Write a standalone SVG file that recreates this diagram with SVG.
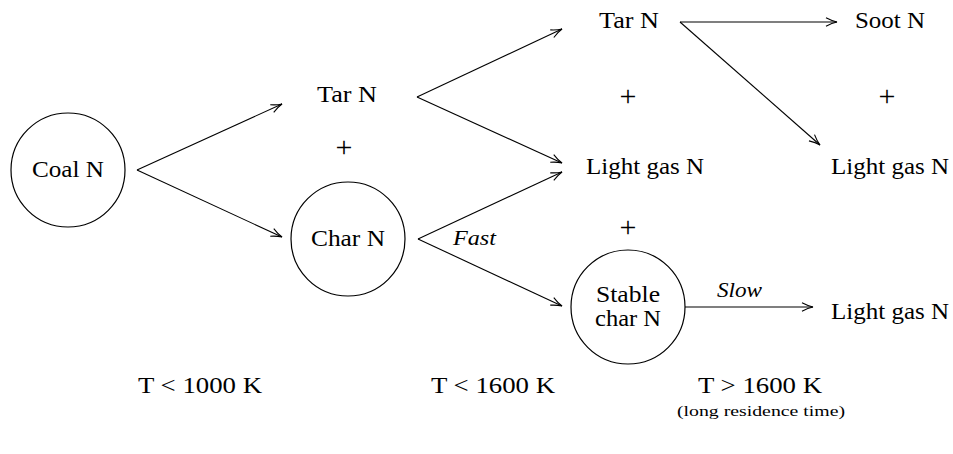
<svg xmlns="http://www.w3.org/2000/svg" width="953" height="454" viewBox="0 0 953 454">
<style>
  text { font-family: 'Liberation Serif', 'Times New Roman', 'DejaVu Serif', serif; fill: #000; }
  .t { font-size: 23px; text-anchor: middle; }
  .p { font-size: 30px; text-anchor: middle; }
  .i { font-size: 22px; font-style: italic; }
  .s { font-size: 14px; text-anchor: middle; }
  .c { fill: #fff; stroke: #000; stroke-width: 1.2; }
  .e { fill: none; stroke: #000; stroke-width: 1.1; marker-end: url(#ah); }
</style>
<defs>
  <marker id="ah" viewBox="-12 -6 14 12" markerWidth="14" markerHeight="12" refX="0" refY="0" orient="auto" markerUnits="userSpaceOnUse">
    <path d="M-11,-4.2 Q-5,-1 0,0 Q-5,1 -11,4.2" fill="none" stroke="#000" stroke-width="1.1"/>
  </marker>
</defs>
<rect width="953" height="454" fill="#fff"/>
<g id="connectors">
  <line class="e" x1="137" y1="170" x2="282" y2="104"/>
  <line class="e" x1="137" y1="170" x2="282" y2="237"/>
  <line class="e" x1="417" y1="97" x2="562" y2="29"/>
  <line class="e" x1="417" y1="97" x2="562" y2="163"/>
  <line class="e" x1="418" y1="239" x2="562" y2="172"/>
  <line class="e" x1="418" y1="239" x2="562" y2="306"/>
  <line class="e" x1="680" y1="22" x2="837" y2="22"/>
  <line class="e" x1="680" y1="22" x2="820" y2="145"/>
  <line class="e" x1="685" y1="307" x2="813" y2="307"/>
</g>
<g id="coal">
  <circle class="c" cx="68" cy="170" r="57"/>
  <text class="t" x="68" y="177" textLength="72" lengthAdjust="spacingAndGlyphs">Coal N</text>
</g>
<g id="tar1">
  <text class="t" x="347" y="102" textLength="60" lengthAdjust="spacingAndGlyphs">Tar N</text>
</g>
<g id="plus1"><text class="p" x="344" y="157">+</text></g>
<g id="char">
  <circle class="c" cx="348" cy="239" r="57"/>
  <text class="t" x="348" y="246" textLength="74" lengthAdjust="spacingAndGlyphs">Char N</text>
</g>
<g id="fast"><text class="i" x="453" y="245" textLength="43" lengthAdjust="spacingAndGlyphs">Fast</text></g>
<g id="tar2">
  <text class="t" x="629" y="28" textLength="60" lengthAdjust="spacingAndGlyphs">Tar N</text>
</g>
<g id="plus2"><text class="p" x="628" y="106">+</text></g>
<g id="lightgas1">
  <text class="t" x="645" y="174" textLength="118" lengthAdjust="spacingAndGlyphs">Light gas N</text>
</g>
<g id="plus3"><text class="p" x="628" y="237">+</text></g>
<g id="stable">
  <circle class="c" cx="628" cy="307" r="57"/>
  <text class="t" x="628" y="302" textLength="64" lengthAdjust="spacingAndGlyphs">Stable</text>
  <text class="t" x="628" y="326" textLength="66" lengthAdjust="spacingAndGlyphs">char N</text>
</g>
<g id="slow"><text class="i" x="717" y="297" textLength="45" lengthAdjust="spacingAndGlyphs">Slow</text></g>
<g id="soot">
  <text class="t" x="890" y="28" textLength="70" lengthAdjust="spacingAndGlyphs">Soot N</text>
</g>
<g id="plus4"><text class="p" x="887" y="106">+</text></g>
<g id="lightgas2">
  <text class="t" x="890" y="174" textLength="118" lengthAdjust="spacingAndGlyphs">Light gas N</text>
</g>
<g id="lightgas3">
  <text class="t" x="890" y="319" textLength="118" lengthAdjust="spacingAndGlyphs">Light gas N</text>
</g>
<g id="labels">
  <text class="t" x="200" y="393" textLength="124" lengthAdjust="spacingAndGlyphs">T &lt; 1000 K</text>
  <text class="t" x="493" y="393" textLength="124" lengthAdjust="spacingAndGlyphs">T &lt; 1600 K</text>
  <text class="t" x="760" y="393" textLength="124" lengthAdjust="spacingAndGlyphs">T &gt; 1600 K</text>
  <text class="s" x="761" y="416" textLength="168" lengthAdjust="spacingAndGlyphs">(long residence time)</text>
</g>
</svg>
